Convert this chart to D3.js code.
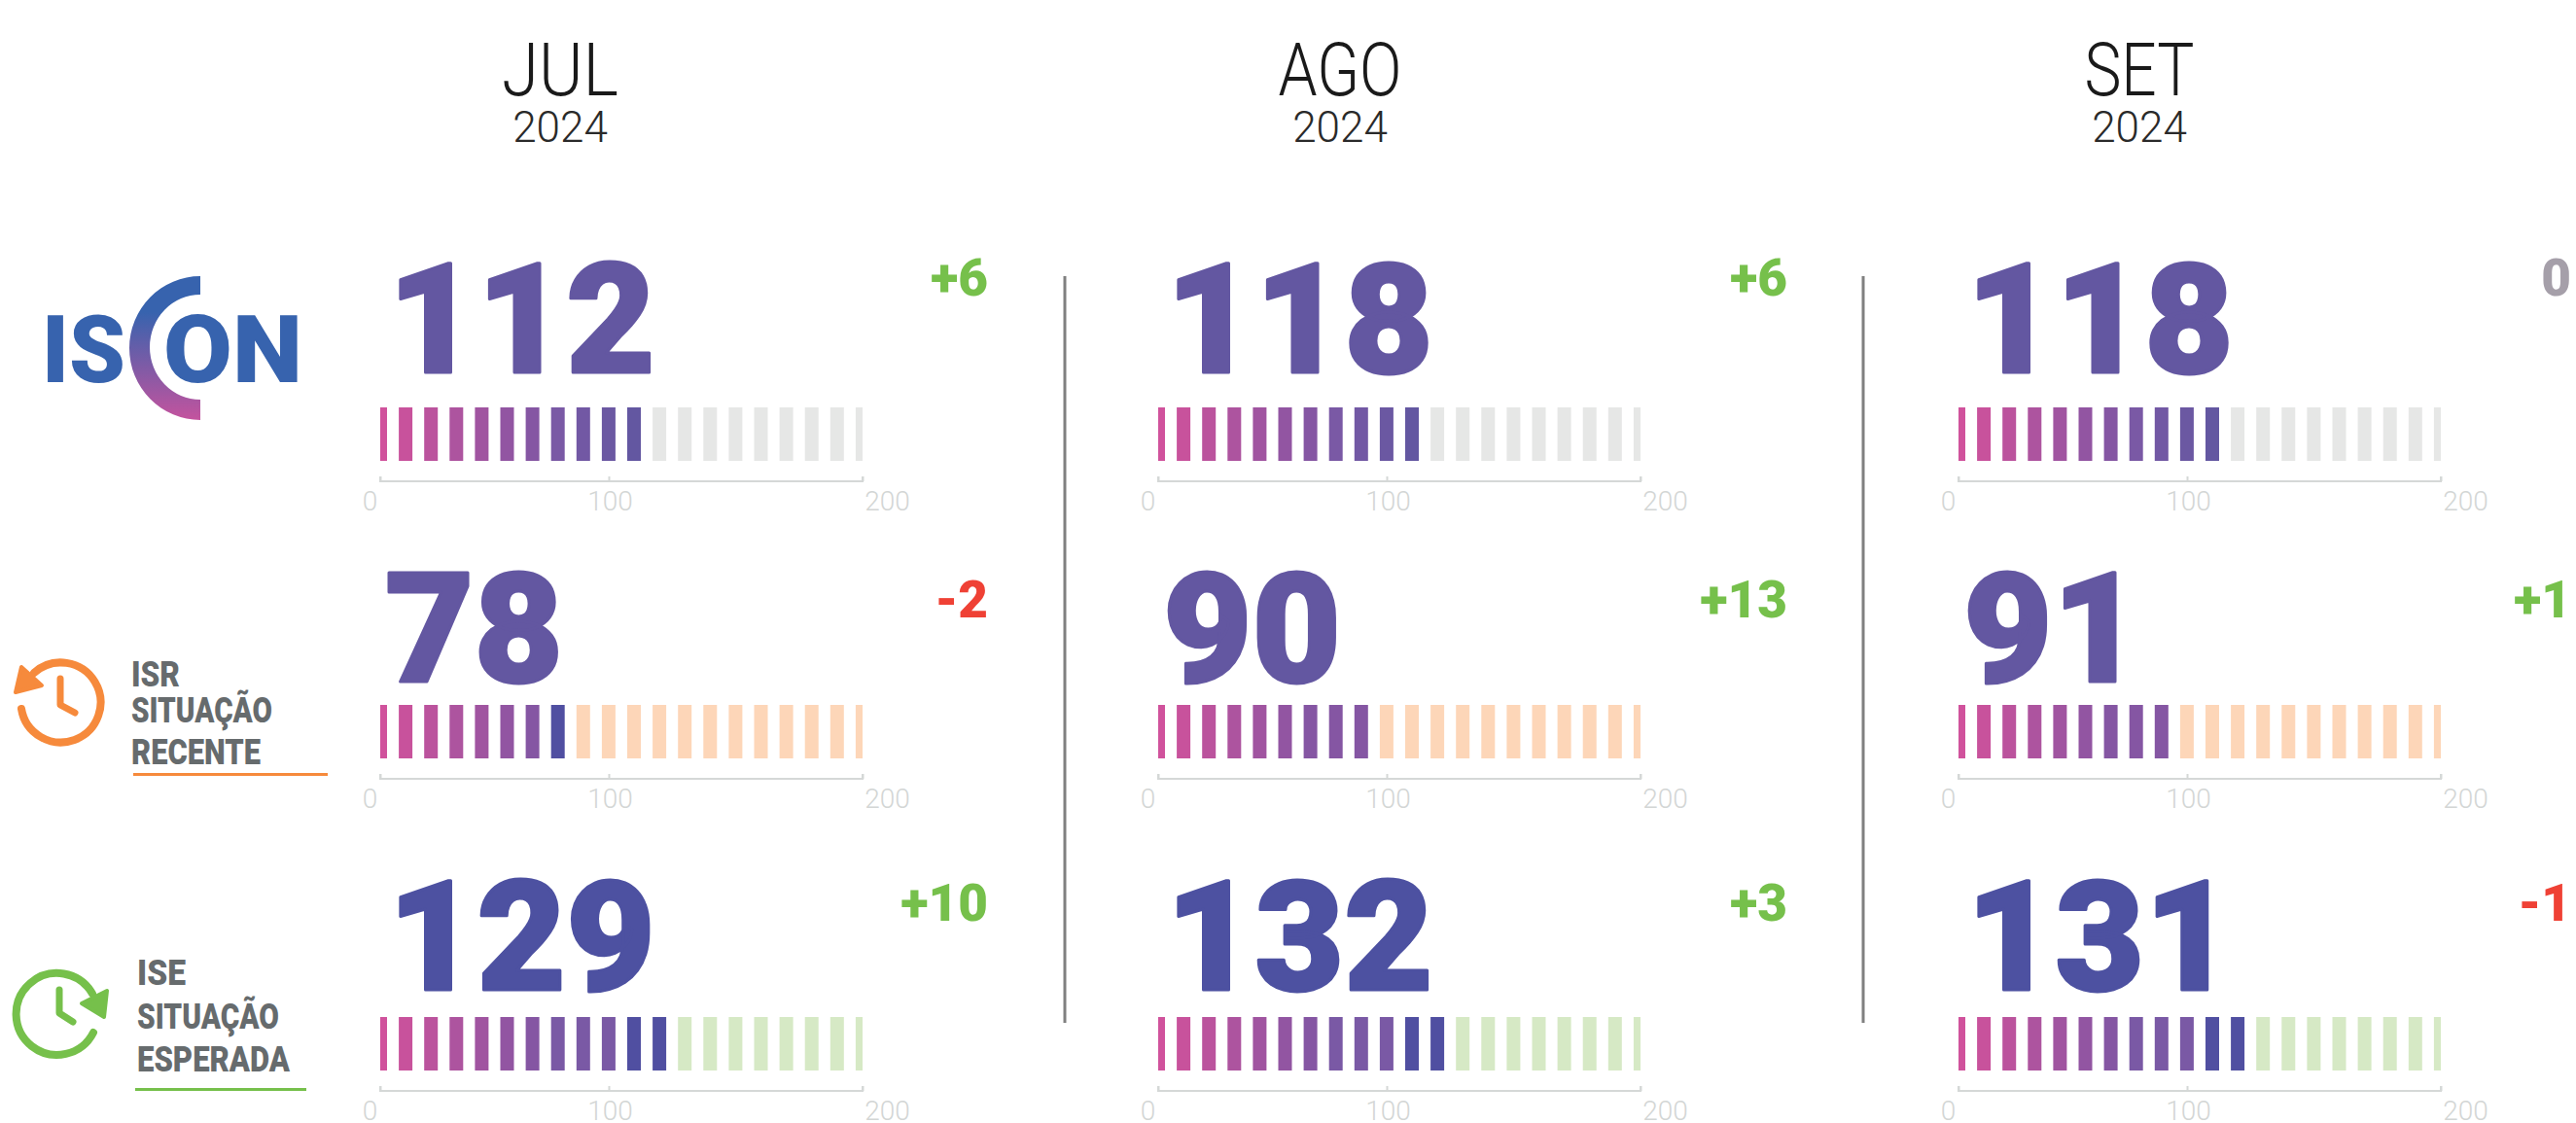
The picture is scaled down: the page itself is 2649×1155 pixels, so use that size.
<!DOCTYPE html>
<html>
<head>
<meta charset="utf-8">
<script src="https://d3js.org/d3.v7.min.js"></script>
<style>
  html, body { margin: 0; padding: 0; background: #fff; }
  svg { display: block; }
  text { font-family: Roboto, sans-serif; }
</style>
</head>
<body>
<div id="chart"></div>
<script>
// values
const months = ["JUL", "AGO", "SET"];
const years = ["2024", "2024", "2024"];
const indicators = ["ISCON", "ISR", "ISE"];
const isconValues = [112, 118, 118];
const isrValues = [78, 90, 91];
const iseValues = [129, 132, 131];
const isconDeltas = ["+6", "+6", "0"];
const isrDeltas = ["-2", "+13", "+1"];
const iseDeltas = ["+10", "+3", "-1"];
// how many of the 20 stripes are coloured in the reference
const isconFilled = [11, 11, 11];
const isrFilled = [8, 9, 9];
const iseFilled = [12, 12, 12];
const axisTicks = [0, 100, 200];

const seriesValues = [isconValues, isrValues, iseValues];
const seriesDeltas = [isconDeltas, isrDeltas, iseDeltas];
const seriesFilled = [isconFilled, isrFilled, iseFilled];
const stripes = d3.range(20);

const width = 2649, height = 1155;
const colX = [391, 1191, 2014];
const monthX = [576, 1378, 2200];
const monthW = [120, 127, 113];
const rowY = [419, 725, 1046];     // top of the stripes
const deltaRight = [1016, 1838, 2644];
const deltaBase = [304, 635, 947];
const numberBase = [383, 701, 1018];
const numberPad = [8, 5, 8];
const axisW = 496, stripeW = 14, stripeH = 55;
const emptyColor = ["#e6e7e6", "#fdd6b8", "#d6e9c5"];
const numberColor = ["#6357a1", "#6357a1", "#4d51a1"];

// where the colour ramp stops and where the dark stripes begin, per row and month
const rampCap = [[99, 99, 99], [99, 6, 6], [7, 7, 7]];
const darkFrom = [[99, 99, 99], [7, 99, 99], [10, 10, 10]];

const svg = d3.select("#chart").append("svg")
    .attr("width", width)
    .attr("height", height);

const defs = svg.append("defs");
const logoGrad = defs.append("linearGradient")
    .attr("id", "logoGrad")
    .attr("x1", 0).attr("y1", 0).attr("x2", 0).attr("y2", 1);
logoGrad.append("stop").attr("offset", "25%").attr("stop-color", "#3763ae");
logoGrad.append("stop").attr("offset", "100%").attr("stop-color", "#c4539e");

// the axis is not even in the reference: 100 sits left of the middle
const xScale = d3.scaleLinear().domain([0, 100, 200]).range([0, 235, axisW]);
const stripeScale = d3.scaleLinear().domain([0, 20]).range([-7, 515]);
const ramp = d3.scaleLinear()
    .domain([0, 1, 6, 7, 10])
    .range(["#d0529c", "#c8529c", "#8556a3", "#7a59a5", "#6357a1"])
    .clamp(true);

// month headers
months.forEach((m, i) => {
    svg.append("text")
        .attr("x", monthX[i]).attr("y", 98)
        .attr("text-anchor", "middle")
        .attr("font-size", 76).attr("font-weight", 300).attr("fill", "#1a1a1a")
        .attr("textLength", monthW[i]).attr("lengthAdjust", "spacingAndGlyphs")
        .text(m);
    svg.append("text")
        .attr("x", monthX[i]).attr("y", 146)
        .attr("text-anchor", "middle")
        .attr("font-size", 44).attr("font-weight", 300).attr("fill", "#2a2a2a")
        .text(years[i]);
});

// dividers
[1095, 1916].forEach(x => {
    svg.append("line")
        .attr("x1", x).attr("x2", x).attr("y1", 284).attr("y2", 1052)
        .attr("stroke", "#808080").attr("stroke-width", 3);
});

function stripeColor(r, c, i) {
    if (i >= seriesFilled[r][c]) return emptyColor[r];
    if (i >= darkFrom[r][c]) return "#504fa1";
    return ramp(Math.min(i, rampCap[r][c]));
}

indicators.forEach((name, r) => {
    months.forEach((m, c) => {
        const g = svg.append("g")
            .attr("class", "cell " + name)
            .attr("transform", `translate(${colX[c]},${rowY[r]})`);

        g.selectAll("rect")
            .data(stripes)
            .join("rect")
            .attr("x", d => Math.max(stripeScale(d), 0))
            .attr("y", 0)
            .attr("width", d => Math.min(stripeScale(d) + stripeW, axisW) - Math.max(stripeScale(d), 0))
            .attr("height", stripeH)
            .attr("fill", d => stripeColor(r, c, d));

        const axis = d3.axisBottom(xScale)
            .tickValues(axisTicks)
            .tickSize(-5)
            .tickPadding(0);
        const ag = g.append("g")
            .attr("transform", `translate(0,${stripeH + 21})`)
            .call(axis);
        ag.selectAll("path,line").attr("stroke", "#d5d8d7").attr("stroke-width", 2);
        ag.select(".domain").attr("d", `M0,-5V0H${axisW}V-5`);
        ag.selectAll("text")
            .attr("font-family", "Roboto").attr("font-weight", 300)
            .attr("font-size", 28).attr("fill", "#d3d6d5")
            .attr("dx", d => d === 0 ? -11 : d === 200 ? 25 : 1)
            .attr("y", 30).attr("dy", 0);

        svg.append("text")
            .attr("x", colX[c] + numberPad[r]).attr("y", numberBase[r])
            .attr("font-size", 158).attr("font-weight", 900)
            .attr("fill", numberColor[r]).attr("stroke", numberColor[r])
            .attr("stroke-width", 3).attr("stroke-linejoin", "round")
            .text(seriesValues[r][c]);

        const delta = seriesDeltas[r][c];
        svg.append("text")
            .attr("x", deltaRight[c]).attr("y", deltaBase[r])
            .attr("text-anchor", "end")
            .attr("font-size", 53).attr("font-weight", 900)
            .attr("fill", delta[0] === "+" ? "#76c04b" : delta[0] === "-" ? "#ef4135" : "#a59fa9")
            .text(delta);
    });
});

// ISCON logo
const logo = svg.append("g").attr("class", "logo");
logo.append("text").attr("x", 43).attr("y", 393)
    .attr("font-size", 97).attr("font-weight", 900).attr("fill", "#3763ae")
    .attr("textLength", 86).attr("lengthAdjust", "spacingAndGlyphs").text("IS");
logo.append("text").attr("x", 168).attr("y", 393)
    .attr("font-size", 97).attr("font-weight", 900).attr("fill", "#3763ae")
    .attr("textLength", 143).attr("lengthAdjust", "spacingAndGlyphs").text("ON");
logo.append("path")
    .attr("d", "M206,284A73,74 0 0 0 206,432L206,411A52,54 0 0 1 206,303Z")
    .attr("fill", "url(#logoGrad)");

// ISR legend
const isr = svg.append("g").attr("class", "legend-isr");
isr.append("path")
    .attr("d", "M35,692A41,41 0 1 1 22,729")
    .attr("fill", "none").attr("stroke", "#f68a3c").attr("stroke-width", 8).attr("stroke-linecap", "round");
isr.append("path")
    .attr("d", "M22,686L43,705L16,712Z")
    .attr("fill", "#f68a3c").attr("stroke", "#f68a3c").attr("stroke-width", 4).attr("stroke-linejoin", "round");
isr.append("path")
    .attr("d", "M62,698V725L77,733")
    .attr("fill", "none").attr("stroke", "#f68a3c").attr("stroke-width", 7).attr("stroke-linecap", "round").attr("stroke-linejoin", "round");
[["ISR", 706, 50], ["SITUAÇÃO", 743, 145], ["RECENTE", 786, 133]].forEach(t => {
    isr.append("text").attr("x", 135).attr("y", t[1])
        .attr("font-size", 36).attr("font-weight", 900).attr("fill", "#666b6d")
        .attr("textLength", t[2]).attr("lengthAdjust", "spacingAndGlyphs").text(t[0]);
});
isr.append("rect").attr("x", 137).attr("y", 795).attr("width", 200).attr("height", 3).attr("fill", "#f68a3c");

// ISE legend
const ise = svg.append("g").attr("class", "legend-ise");
ise.append("path")
    .attr("d", "M95,1022A42,42 0 1 0 96,1062")
    .attr("fill", "none").attr("stroke", "#76c04b").attr("stroke-width", 8).attr("stroke-linecap", "round");
ise.append("path")
    .attr("d", "M110,1019L107,1046L84,1032Z")
    .attr("fill", "#76c04b").attr("stroke", "#76c04b").attr("stroke-width", 4).attr("stroke-linejoin", "round");
ise.append("path")
    .attr("d", "M61,1018V1042L75,1051")
    .attr("fill", "none").attr("stroke", "#76c04b").attr("stroke-width", 7).attr("stroke-linecap", "round").attr("stroke-linejoin", "round");
[["ISE", 1013, 50], ["SITUAÇÃO", 1058, 146], ["ESPERADA", 1102, 157]].forEach(t => {
    ise.append("text").attr("x", 141).attr("y", t[1])
        .attr("font-size", 36).attr("font-weight", 900).attr("fill", "#666b6d")
        .attr("textLength", t[2]).attr("lengthAdjust", "spacingAndGlyphs").text(t[0]);
});
ise.append("rect").attr("x", 139).attr("y", 1119).attr("width", 176).attr("height", 3).attr("fill", "#76c04b");
</script>
</body>
</html>
